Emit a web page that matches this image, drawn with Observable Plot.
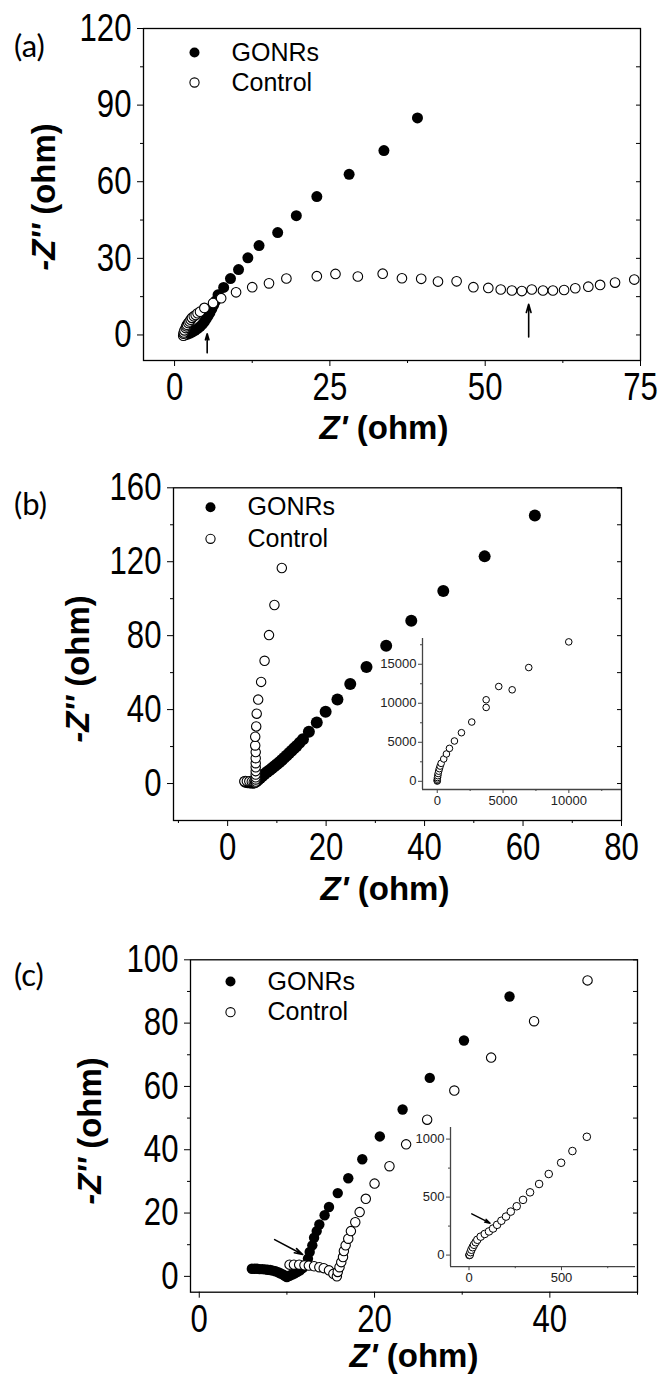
<!DOCTYPE html>
<html><head><meta charset="utf-8">
<script src="https://cdn.jsdelivr.net/npm/d3@7"></script>
<script src="https://cdn.jsdelivr.net/npm/@observablehq/plot@0.6"></script>
<style>
body{margin:0;background:#fff}
#root{position:relative;width:661px;height:1376px;overflow:hidden;background:#fff}
.abs{position:absolute}
</style></head><body><div id="root"></div>
<script>
// ---------- data ----------
const seriesNames = ["GONRs", "Control"];
const panelLabels = ["(a)", "(b)", "(c)"];

// panel (a)  [Z', -Z'']
const aGONRs = [[1.7,0],[2.1,0.3],[2.5,0.7],[2.9,1.2],[3.3,1.8],[3.7,2.5],[4.1,3.3],[4.5,4.2],[4.8,5.2],[5.1,6.3],[5.4,7.5],[5.7,8.8],[6.0,10.2],[6.3,11.7],[6.6,13.3],[7.0,15.7],[7.9,18.6],[9.0,22.1],[10.3,25.6],[11.8,30.2],[13.6,35.0],[16.6,40.1],[19.6,46.7],[22.9,54.2],[28.1,62.9],[33.7,72.2],[39.1,85.0]];
const aControl = [[1.4,-0.3],[1.45,0.5],[1.5,1.0],[1.6,1.8],[1.8,2.7],[1.9,3.4],[2.0,4.0],[2.2,4.7],[2.4,5.3],[2.6,6.0],[2.8,6.7],[3.1,7.3],[3.4,7.8],[3.7,8.5],[4.1,9.1],[4.8,10.6],[6.2,12.5],[7.5,14.4],[9.9,16.7],[12.5,18.7],[15.2,20.2],[18.0,22.1],[22.9,23.0],[25.9,23.9],[29.5,22.9],[33.5,24.0],[36.6,22.2],[39.7,22.0],[42.4,20.9],[45.4,21.0],[48.1,18.7],[50.5,18.4],[52.5,17.8],[54.3,17.4],[55.9,17.2],[57.5,17.8],[59.3,17.4],[60.9,17.4],[62.7,17.6],[64.5,18.3],[66.6,18.9],[68.5,19.6],[70.9,20.5],[74.0,21.7]];
const aArrows = [[5.25,-7,5.25,0.5],[57,-0.8,57,12]];

// panel (b)
const bGONRs = [[3.6,1.0],[4.0,0.7],[4.5,0.5],[5.0,0.4],[5.4,0.5],[5.8,1.1],[6.2,2.0],[6.6,3.0],[7.0,4.0],[7.5,5.1],[8.0,6.2],[8.5,7.2],[9.0,8.3],[9.5,9.3],[10.0,10.4],[10.5,11.5],[11.0,12.7],[11.5,13.9],[12.0,15.2],[12.5,16.5],[13.0,17.8],[13.5,19.1],[14.0,20.3],[14.6,22.0],[15.3,23.9],[16.5,28.0],[18.1,33.0],[19.9,38.8],[22.3,45.5],[24.9,53.8],[28.2,63.1],[32.2,74.5],[37.3,88.1],[43.8,104.2],[52.2,122.9],[62.4,145.0]];
const bControl = [[3.4,1.2],[3.9,1.3],[4.4,1.2],[4.9,1.0],[5.3,0.7],[5.6,0.5],[5.7,1.1],[5.7,2.2],[5.7,3.4],[5.7,4.9],[5.7,6.7],[5.7,8.8],[5.7,11.0],[5.7,13.7],[5.7,17.0],[5.6,20.6],[5.6,25.3],[5.8,30.9],[5.9,37.8],[6.2,45.4],[6.8,55.0],[7.5,66.4],[8.4,80.3],[9.5,96.6],[11.0,116.6]];
const bInsetControl = [[0,30],[2,120],[8,280],[20,480],[40,720],[70,1000],[110,1300],[160,1620],[220,1950],[296,2302],[494,2864],[699,3504],[927,4220],[1307,5166],[1839,6228],[2622,7596],[3716,9463],[3716,10448],[4673,12148],[5692,11726],[6953,14578],[9993,17865]];

// panel (c)
const cGONRs = [[6.0,2.4],[6.3,2.4],[6.6,2.4],[6.9,2.3],[7.2,2.3],[7.5,2.2],[7.8,2.1],[8.1,2.0],[8.4,1.8],[8.7,1.6],[9.0,1.3],[9.3,0.9],[9.6,0.5],[9.8,0.1],[10.0,-0.2],[10.3,0.2],[10.6,0.6],[10.9,1.0],[11.2,1.4],[11.5,1.9],[11.8,2.6],[12.1,3.6],[12.4,5.6],[12.6,7.7],[12.9,9.8],[13.1,12.2],[13.4,14.3],[13.7,16.4],[14.3,19.3],[14.8,21.9],[15.8,26.3],[17.0,31.0],[18.6,37.0],[20.6,44.2],[23.2,52.7],[26.3,62.7],[30.2,74.5],[35.4,88.4]];
const cControl = [[10.3,3.7],[10.8,3.7],[11.4,3.7],[12.0,3.5],[12.5,3.4],[13.1,3.2],[13.7,2.9],[14.2,2.6],[14.8,1.9],[15.3,0.8],[15.7,0.0],[15.8,1.4],[16.0,2.9],[16.2,4.5],[16.4,6.1],[16.5,8.0],[16.7,9.8],[17.0,11.9],[17.3,14.3],[17.8,17.1],[18.3,20.3],[19.0,24.5],[20.0,29.3],[21.7,34.8],[23.6,41.7],[26.0,49.5],[29.1,58.7],[33.3,69.1],[38.2,80.6],[44.3,93.5]];
const cArrows = [[8.6,11.6,11.8,6.9]];
const cInsetControl = [[2,0],[4,3],[8,25],[13,46],[20,68],[27,89],[36,111],[45,132],[63,159],[85,182],[108,204],[130,229],[152,261],[175,296],[200,332],[226,375],[258,421],[292,476],[330,541],[379,613],[431,699],[498,796],[559,897],[637,1020]];
const cInsetArrows = [[15,356,114,275]];

// axes (domains & ticks)
const aX = {domain:[-5,75], major:[0,25,50,75], minor:[12.5,37.5,62.5]};
const aY = {domain:[-10,120], major:[0,30,60,90,120], minor:[15,45,75,105]};
const bX = {domain:[-11,80], major:[0,20,40,60,80], minor:[-10,10,30,50,70]};
const bY = {domain:[-20,160], major:[0,40,80,120,160], minor:[20,60,100,140]};
const cX = {domain:[-1,50], major:[0,20,40], minor:[10,30,50]};
const cY = {domain:[-5,100], major:[0,20,40,60,80,100], minor:[10,30,50,70,90]};
const bInX = {domain:[-1120,14000], major:[0,5000,10000], minor:[2500,7500,12500]};
const bInY = {domain:[-1050,18300], major:[0,5000,10000,15000], minor:[2500,7500,12500,17500]};
const cInX = {domain:[-100,900], major:[0,500], minor:[250,750]};
const cInY = {domain:[-100,1100], major:[0,500,1000], minor:[250,750]};

// ---------- drawing ----------
const NUM = "'Liberation Sans',Arial,sans-serif";
const root = document.getElementById("root");
const rows = pts => pts.map(([x,y]) => ({x,y}));
const arrowRows = a => a.map(([x1,y1,x2,y2]) => ({x1,y1,x2,y2}));
const fmt = d => String(d);
const blank = () => "";

function place(el, left, top) {
  const d = document.createElement("div");
  d.className = "abs"; d.style.left = left + "px"; d.style.top = top + "px";
  d.appendChild(el); root.appendChild(d); return d;
}

// narrow (Arial-Narrow-like) tick labels: scale the real text horizontally
function narrow(svg, k) {
  d3.select(svg).selectAll('g[aria-label="x-axis tick label"] text, g[aria-label="y-axis tick label"] text').each(function() {
    let t = this.getAttribute("transform");
    if (!t) {
      const x = this.getAttribute("x") || 0, y = this.getAttribute("y") || 0;
      this.removeAttribute("x"); this.removeAttribute("y");
      t = `translate(${x},${y})`;
    }
    this.setAttribute("transform", `${t} scale(${k},1)`);
  });
}

function mainPanel(o) {
  const marks = [
    Plot.axisX(o.X.major, {tickSize:6, tickPadding:7, label:null, tickFormat:fmt, fontSize:38}),
    Plot.axisX(o.X.minor, {tickSize:3, tickFormat:blank, label:null}),
    Plot.axisY(o.Y.major, {tickSize:6, tickPadding:6, label:null, tickFormat:fmt, fontSize:38}),
    Plot.axisY(o.Y.minor, {tickSize:3, tickFormat:blank, label:null}),
    Plot.axisY(o.Y.major.concat(o.Y.minor), {anchor:"right", tickSize:5, insetRight:5, tickFormat:blank, label:null}),
    Plot.frame({stroke:"black", strokeWidth:1.3}),
    Plot.dot(rows(o.gonrs), {x:"x", y:"y", r:o.rf, fill:"black", clip:true}),
    Plot.dot(rows(o.control), {x:"x", y:"y", r:o.ro, fill:"white", stroke:"black", strokeWidth:1.1, clip:true}),
    Plot.dot([seriesNames[0]], {frameAnchor:"top-left", dx:o.leg.dx, dy:o.leg.dy1, r:5, fill:"black"}),
    Plot.dot([seriesNames[1]], {frameAnchor:"top-left", dx:o.leg.dx, dy:o.leg.dy2, r:4.6, fill:"white", stroke:"black", strokeWidth:1.1}),
    Plot.text([seriesNames[0]], {frameAnchor:"top-left", dx:o.leg.tx, dy:o.leg.dy1, text:d=>d, textAnchor:"start", lineAnchor:"middle", fontSize:25, fill:"black"}),
    Plot.text([seriesNames[1]], {frameAnchor:"top-left", dx:o.leg.tx, dy:o.leg.dy2, text:d=>d, textAnchor:"start", lineAnchor:"middle", fontSize:25, fill:"black"})
  ];
  if (o.arrows) marks.push(Plot.arrow(arrowRows(o.arrows), {x1:"x1", y1:"y1", x2:"x2", y2:"y2", stroke:"black", strokeWidth:1.6, headLength:8, headAngle:32}));
  const svg = Plot.plot({
    width:661, height:o.height,
    marginLeft:o.m[0], marginRight:o.m[1], marginTop:o.m[2], marginBottom:o.m[3],
    x:{domain:o.X.domain}, y:{domain:o.Y.domain},
    style:{fontFamily:NUM, fontSize:"32px", color:"black", background:"white", overflow:"visible"},
    marks
  });
  narrow(svg, 0.82);
  const s = d3.select(svg);
  s.append("text").attr("x", 14).attr("y", o.labelY).attr("text-anchor","start")
    .attr("font-family","Lato,'Open Sans',sans-serif").attr("font-size", 31).attr("fill","black").text(o.label);
  const xt = s.append("text").attr("x", o.xt[0]).attr("y", o.xt[1]).attr("text-anchor","middle")
    .attr("font-family", NUM).attr("font-weight","bold").attr("font-size",33).attr("fill","black");
  xt.append("tspan").attr("font-style","italic").text("Z'");
  xt.append("tspan").text(" (ohm)");
  const yt = s.append("text").attr("transform", `translate(${o.yt[0]},${o.yt[1]}) rotate(-90)`).attr("text-anchor","middle")
    .attr("font-family", NUM).attr("font-weight","bold").attr("font-size",33).attr("fill","black");
  yt.append("tspan").attr("font-style","italic").text("-Z''");
  yt.append("tspan").text(" (ohm)");
  place(svg, 0, o.top);
}

function insetPanel(o) {
  const marks = [
    Plot.ruleX([o.X.domain[0]], {stroke:"#444", strokeWidth:1.3}),
    Plot.ruleY([o.Y.domain[0]], {stroke:"#444", strokeWidth:1.3}),
    Plot.axisX(o.X.major, {tickSize:4, tickPadding:2, label:null, tickFormat:fmt, fontSize:13, stroke:"#444"}),
    Plot.axisX(o.X.minor, {tickSize:2, tickFormat:blank, label:null, stroke:"#444"}),
    Plot.axisY(o.Y.major, {tickSize:4, tickPadding:2, label:null, tickFormat:fmt, fontSize:13, stroke:"#444"}),
    Plot.axisY(o.Y.minor, {tickSize:2, tickFormat:blank, label:null, stroke:"#444"}),
    Plot.dot(rows(o.data), {x:"x", y:"y", r:o.r, fill:"white", stroke:"black", strokeWidth:1})
  ];
  if (o.arrows) marks.push(Plot.arrow(arrowRows(o.arrows), {x1:"x1", y1:"y1", x2:"x2", y2:"y2", stroke:"black", strokeWidth:1.4, headLength:6, headAngle:32}));
  const svg = Plot.plot({
    width:o.w, height:o.h,
    marginLeft:o.m[0], marginRight:o.m[1], marginTop:o.m[2], marginBottom:o.m[3],
    x:{domain:o.X.domain}, y:{domain:o.Y.domain},
    style:{fontFamily:NUM, fontSize:"13px", color:"#222", background:"transparent", overflow:"visible"},
    marks
  });
  place(svg, o.left, o.top);
}

mainPanel({top:0, height:460, m:[143,21,28,100], X:aX, Y:aY, gonrs:aGONRs, control:aControl, rf:5.5, ro:4.8,
  leg:{dx:51, dy1:24, dy2:54, tx:88}, arrows:aArrows, label:panelLabels[0], labelY:57, xt:[384,439], yt:[55,197]});
mainPanel({top:460, height:460, m:[173,40,27.3,100], X:bX, Y:bY, gonrs:bGONRs, control:bControl, rf:6, ro:4.7,
  leg:{dx:37, dy1:19.4, dy2:51, tx:74}, label:panelLabels[1], labelY:55, xt:[385,440], yt:[89,209]});
mainPanel({top:920, height:456, m:[190,24,39.3,84.3], X:cX, Y:cY, gonrs:cGONRs, control:cControl, rf:5.2, ro:4.7,
  leg:{dx:40, dy1:21.7, dy2:52.4, tx:77}, arrows:cArrows, label:panelLabels[2], labelY:66, xt:[414,447], yt:[101,211]});

insetPanel({left:372, top:588, w:254, h:231, m:[50,5,50,30], X:bInX, Y:bInY, data:bInsetControl, r:3.3});
insetPanel({left:405, top:1116.5, w:235, h:174.2, m:[45,5,10,25], X:cInX, Y:cInY, data:cInsetControl, r:3.8, arrows:cInsetArrows});
</script></body></html>
